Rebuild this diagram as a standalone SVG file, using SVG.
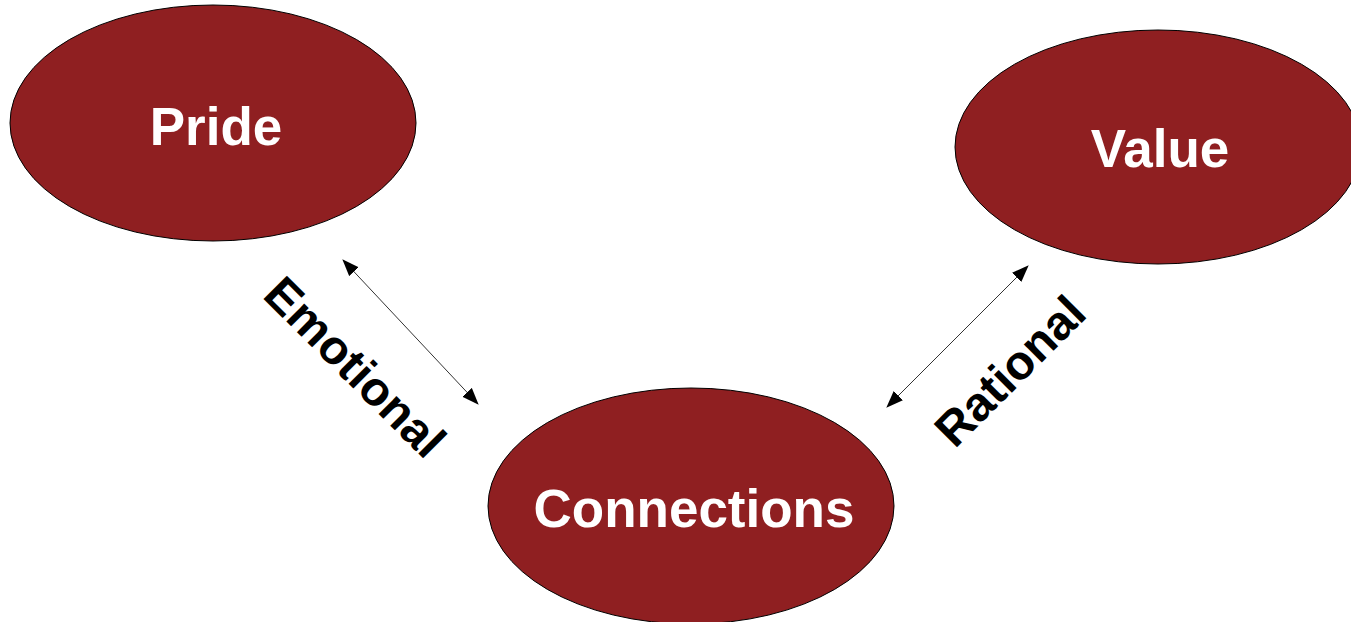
<svg xmlns="http://www.w3.org/2000/svg" width="1351" height="622" viewBox="0 0 1351 622">
<style>
.node{fill:#8f1f21;stroke:#000;stroke-width:1}
.nt{font-family:"Liberation Sans",Arial,sans-serif;font-weight:bold;font-size:53px;fill:#fff;text-anchor:middle;dominant-baseline:central}
.lt{font-family:"Liberation Sans",Arial,sans-serif;font-weight:bold;font-size:48px;fill:#000;text-anchor:middle;dominant-baseline:central}
.conn{stroke:#333;stroke-width:1;fill:none;marker-start:url(#ah);marker-end:url(#ah)}
</style>
<defs>
<marker id="ah" markerUnits="userSpaceOnUse" markerWidth="17" markerHeight="14" refX="16" refY="6.5" orient="auto-start-reverse" viewBox="0 0 17 13">
<path d="M0,0 L17,6.5 L0,13 Z" fill="#000"/>
</marker>
</defs>
<rect width="1351" height="622" fill="#fff"/>
<g id="connectors">
<line class="conn" x1="343" y1="260" x2="478" y2="404"/>
<line class="conn" x1="1028" y1="266" x2="887" y2="407"/>
</g>
<g id="pride">
<ellipse class="node" cx="213" cy="123" rx="203" ry="118"/>
<text class="nt" x="216" y="126">Pride</text>
</g>
<g id="value">
<ellipse class="node" cx="1158" cy="147" rx="203" ry="117"/>
<text class="nt" x="1160" y="148">Value</text>
</g>
<g id="connections">
<ellipse class="node" cx="691" cy="506" rx="203" ry="118"/>
<text class="nt" x="694" y="508">Connections</text>
</g>
<g id="labels">
<text class="lt" transform="translate(355,367) rotate(45)">Emotional</text>
<text class="lt" transform="translate(1010,371) rotate(-45)">Rational</text>
</g>
</svg>
